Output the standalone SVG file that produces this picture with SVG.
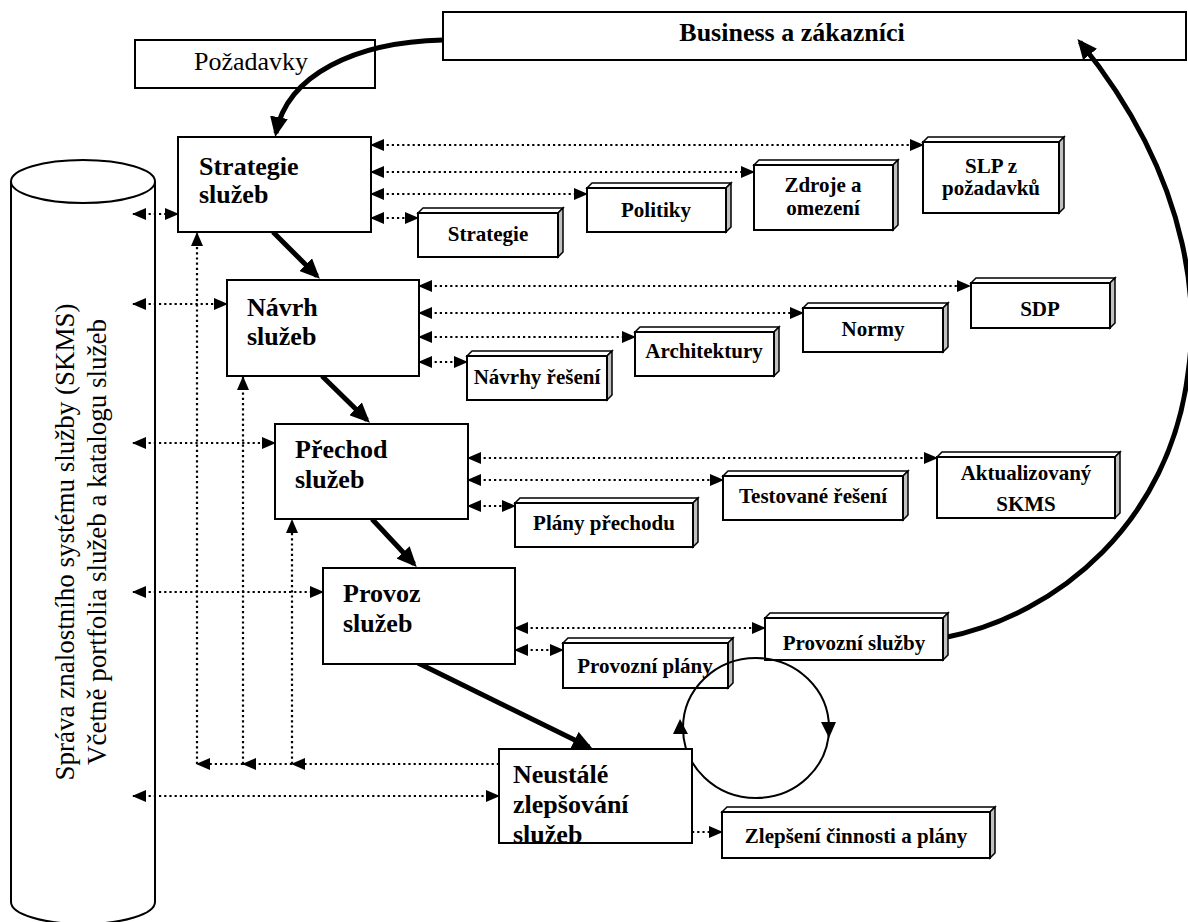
<svg xmlns="http://www.w3.org/2000/svg" width="1188" height="922" viewBox="0 0 1188 922">
<defs>
<style>
.bx{fill:#fff;stroke:#000;stroke-width:2}
.top{fill:#fff;stroke:#000;stroke-width:1.5}
.side{fill:#c0c0c0;stroke:#000;stroke-width:1.5}
.main{font-family:"Liberation Serif","Times New Roman",serif;font-weight:bold;font-size:26px;fill:#000}
.lbl{font-family:"Liberation Serif","Times New Roman",serif;font-weight:bold;font-size:21px;fill:#000;text-anchor:middle}
.reg{font-family:"Liberation Serif","Times New Roman",serif;font-size:26px;fill:#000}
.cyl{font-family:"Liberation Serif","Times New Roman",serif;font-size:27px;fill:#000;text-anchor:middle}
.dot{fill:none;stroke:#000;stroke-width:2.2;stroke-dasharray:2.2 3}
.bi{marker-start:url(#a);marker-end:url(#a)}
.one{marker-end:url(#a)}
.thick{fill:none;stroke:#000;stroke-width:5;marker-end:url(#b)}
</style>
<marker id="a" viewBox="0 0 14 12" refX="13" refY="6" markerWidth="14" markerHeight="12" markerUnits="userSpaceOnUse" orient="auto-start-reverse">
<path d="M0,0 L14,6 L0,12 z" fill="#000"/>
</marker>
<marker id="b" viewBox="0 0 20 18" refX="16" refY="9" markerWidth="20" markerHeight="18" markerUnits="userSpaceOnUse" orient="auto">
<path d="M0,0 L20,9 L0,18 z" fill="#000"/>
</marker>
</defs>
<rect width="1188" height="922" fill="#fff"/>

<!-- Cylinder -->
<g id="skms">
<path d="M11,181 L11,902 A72,22 0 0 0 155,902 L155,181" fill="#fff" stroke="#000" stroke-width="2"/>
<ellipse cx="83" cy="181.5" rx="72" ry="21.5" fill="#fff" stroke="#000" stroke-width="2"/>
<g transform="translate(0,542) rotate(-90)">
<text class="cyl" x="0" y="74">Správa znalostního systému služby (SKMS)</text>
<text class="cyl" x="0" y="106">Včetně portfolia služeb a katalogu služeb</text>
</g>
</g>

<!-- Top boxes -->
<g id="business">
<rect class="bx" x="443" y="12" width="743" height="48"/>
<text class="main" x="792" y="41" text-anchor="middle">Business a zákazníci</text>
</g>
<g id="pozadavky">
<rect class="bx" x="135" y="40" width="240" height="48"/>
<text class="reg" x="251" y="70" text-anchor="middle">Požadavky</text>
</g>

<!-- Connectors -->
<g id="connectors">
<!-- cylinder links -->
<line class="dot bi" x1="133" y1="214" x2="178" y2="214"/>
<line class="dot bi" x1="133" y1="304" x2="227" y2="304"/>
<line class="dot bi" x1="133" y1="443" x2="275" y2="443"/>
<line class="dot bi" x1="133" y1="592" x2="323" y2="592"/>
<line class="dot bi" x1="133" y1="796" x2="499" y2="796"/>
<!-- strategie outputs -->
<line class="dot bi" x1="371" y1="145" x2="923" y2="145"/>
<line class="dot bi" x1="371" y1="172" x2="754" y2="172"/>
<line class="dot bi" x1="371" y1="194" x2="587" y2="194"/>
<line class="dot bi" x1="371" y1="218" x2="418" y2="218"/>
<!-- navrh outputs -->
<line class="dot bi" x1="419" y1="286" x2="970" y2="286"/>
<line class="dot bi" x1="419" y1="313" x2="803" y2="313"/>
<line class="dot bi" x1="419" y1="337" x2="635" y2="337"/>
<line class="dot bi" x1="419" y1="362" x2="467" y2="362"/>
<!-- prechod outputs -->
<line class="dot bi" x1="468" y1="458" x2="937" y2="458"/>
<line class="dot bi" x1="468" y1="480" x2="723" y2="480"/>
<line class="dot bi" x1="468" y1="506" x2="515" y2="506"/>
<!-- provoz outputs -->
<line class="dot bi" x1="515" y1="628" x2="765" y2="628"/>
<line class="dot bi" x1="515" y1="650" x2="563" y2="650"/>
<!-- CSI output -->
<line class="dot one" x1="692" y1="832" x2="722" y2="832"/>
<!-- feedback -->
<line class="dot one" x1="499" y1="764" x2="292" y2="764"/>
<line class="dot one" x1="292" y1="764" x2="243" y2="764"/>
<line class="dot one" x1="243" y1="764" x2="197" y2="764"/>
<line class="dot one" x1="197" y1="764" x2="197" y2="233"/>
<line class="dot one" x1="243" y1="764" x2="243" y2="377"/>
<line class="dot one" x1="292" y1="764" x2="292" y2="520"/>
<!-- thick flow -->
<path class="thick" d="M443,40 C355,42 287,75 276,133"/>
<path class="thick" d="M273,232 L317,276"/>
<path class="thick" d="M322,376 L367,420"/>
<path class="thick" d="M372,519 L414,564"/>
<path class="thick" d="M418,663 L589,747"/>
<path class="thick" d="M943,638 C1060,615 1170,520 1188,373 C1196,320 1200,190 1080,42"/>
</g>

<!-- Main process boxes -->
<g id="strategie">
<rect class="bx" x="178" y="137" width="193" height="95"/>
<text class="main" x="199" y="175">Strategie</text>
<text class="main" x="199" y="203">služeb</text>
</g>
<g id="navrh">
<rect class="bx" x="227" y="280" width="192" height="96"/>
<text class="main" x="247" y="316">Návrh</text>
<text class="main" x="247" y="345">služeb</text>
</g>
<g id="prechod">
<rect class="bx" x="275" y="424" width="193" height="95"/>
<text class="main" x="295" y="458">Přechod</text>
<text class="main" x="295" y="488">služeb</text>
</g>
<g id="provoz">
<rect class="bx" x="323" y="568" width="192" height="96"/>
<text class="main" x="343" y="602">Provoz</text>
<text class="main" x="343" y="632">služeb</text>
</g>

<!-- 3D output boxes -->
<g id="out-strategie">
<polygon class="top" points="418,213 423,208 563,208 558,213"/>
<polygon class="side" points="558,213 563,208 563,252 558,257"/>
<rect class="bx" x="418" y="213" width="140" height="44"/>
<text class="lbl" x="488" y="241">Strategie</text>
</g>
<g id="out-politiky">
<polygon class="top" points="587,188 592,183 731,183 726,188"/>
<polygon class="side" points="726,188 731,183 731,227 726,232"/>
<rect class="bx" x="587" y="188" width="139" height="44"/>
<text class="lbl" x="656" y="217">Politiky</text>
</g>
<g id="out-zdroje">
<polygon class="top" points="754,165 759,160 898,160 893,165"/>
<polygon class="side" points="893,165 898,160 898,225 893,230"/>
<rect class="bx" x="754" y="165" width="139" height="65"/>
<text class="lbl" x="823" y="192">Zdroje a</text>
<text class="lbl" x="823" y="215">omezení</text>
</g>
<g id="out-slp">
<polygon class="top" points="923,142 928,137 1064,137 1059,142"/>
<polygon class="side" points="1059,142 1064,137 1064,208 1059,213"/>
<rect class="bx" x="923" y="142" width="136" height="71"/>
<text class="lbl" x="991" y="173">SLP z</text>
<text class="lbl" x="991" y="195">požadavků</text>
</g>
<g id="out-sdp">
<polygon class="top" points="971,283 976,278 1115,278 1110,283"/>
<polygon class="side" points="1110,283 1115,278 1115,323 1110,328"/>
<rect class="bx" x="971" y="283" width="139" height="45"/>
<text class="lbl" x="1040" y="316">SDP</text>
</g>
<g id="out-normy">
<polygon class="top" points="803,308 808,303 948,303 943,308"/>
<polygon class="side" points="943,308 948,303 948,347 943,352"/>
<rect class="bx" x="803" y="308" width="140" height="44"/>
<text class="lbl" x="873" y="336">Normy</text>
</g>
<g id="out-architektury">
<polygon class="top" points="635,332 640,327 779,327 774,332"/>
<polygon class="side" points="774,332 779,327 779,371 774,376"/>
<rect class="bx" x="635" y="332" width="139" height="44"/>
<text class="lbl" x="704" y="358">Architektury</text>
</g>
<g id="out-navrhy">
<polygon class="top" points="467,356 472,351 612,351 607,356"/>
<polygon class="side" points="607,356 612,351 612,395 607,400"/>
<rect class="bx" x="467" y="356" width="140" height="44"/>
<text class="lbl" x="537" y="384">Návrhy řešení</text>
</g>
<g id="out-aktualizovany">
<polygon class="top" points="937,457 942,452 1120,452 1115,457"/>
<polygon class="side" points="1115,457 1120,452 1120,513 1115,518"/>
<rect class="bx" x="937" y="457" width="178" height="61"/>
<text class="lbl" x="1026" y="480">Aktualizovaný</text>
<text class="lbl" x="1026" y="511">SKMS</text>
</g>
<g id="out-testovane">
<polygon class="top" points="723,476 728,471 908,471 903,476"/>
<polygon class="side" points="903,476 908,471 908,515 903,520"/>
<rect class="bx" x="723" y="476" width="180" height="44"/>
<text class="lbl" x="813" y="503">Testované řešení</text>
</g>
<g id="out-plany-prechodu">
<polygon class="top" points="515,503 520,498 698,498 693,503"/>
<polygon class="side" points="693,503 698,498 698,542 693,547"/>
<rect class="bx" x="515" y="503" width="178" height="44"/>
<text class="lbl" x="604" y="530">Plány přechodu</text>
</g>
<g id="out-provozni-sluzby">
<polygon class="top" points="765,618 770,613 948,613 943,618"/>
<polygon class="side" points="943,618 948,613 948,655 943,660"/>
<rect class="bx" x="765" y="618" width="178" height="42"/>
<text class="lbl" x="854" y="650">Provozní služby</text>
</g>
<g id="out-provozni-plany">
<polygon class="top" points="563,643 568,638 733,638 728,643"/>
<polygon class="side" points="728,643 733,638 733,683 728,688"/>
<rect class="bx" x="563" y="643" width="165" height="45"/>
<text class="lbl" x="645" y="673">Provozní plány</text>
</g>
<g id="out-zlepseni">
<polygon class="top" points="722,812 727,807 995,807 990,812"/>
<polygon class="side" points="990,812 995,807 995,853 990,858"/>
<rect class="bx" x="722" y="812" width="268" height="46"/>
<text class="lbl" x="856" y="843">Zlepšení činnosti a plány</text>
</g>

<!-- Improvement cycle -->
<g id="cycle">
<ellipse cx="756" cy="728" rx="73" ry="70" fill="none" stroke="#000" stroke-width="2"/>
<polygon points="680,719 673,734 688,734" fill="#000"/>
<polygon points="829,738 821,722 836,722" fill="#000"/>
</g>

<g id="neustale">
<rect class="bx" x="499" y="749" width="193" height="94"/>
<text class="main" x="513" y="783">Neustálé</text>
<text class="main" x="513" y="813">zlepšování</text>
<text class="main" x="513" y="843">služeb</text>
</g>
</svg>
